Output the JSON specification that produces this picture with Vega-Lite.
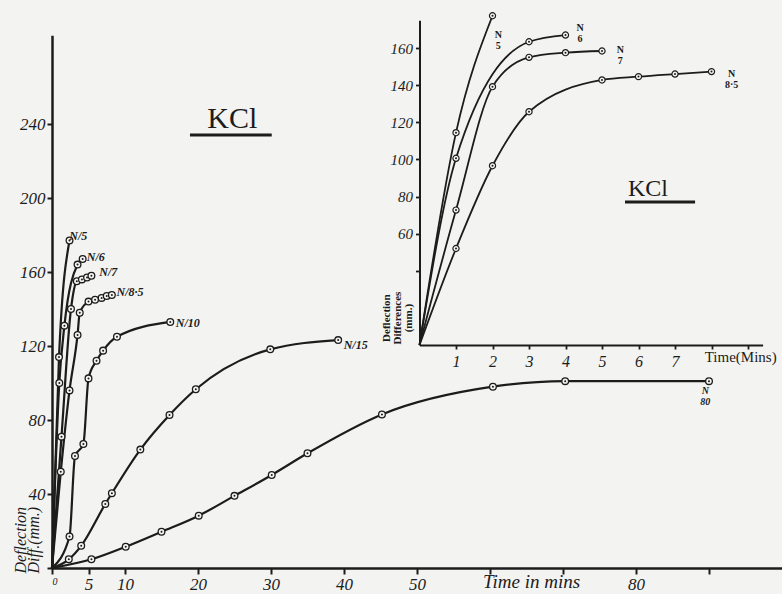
{
  "$schema": "https://vega.github.io/schema/vega-lite/v6.json",
  "width": 730,
  "height": 558,
  "autosize": {"type": "none"},
  "padding": {"left": 52, "top": 10, "right": 0, "bottom": 26},
  "background": "#f3f3f1",
  "config": {
    "view": {"stroke": null},
    "font": "Liberation Serif",
    "axis": {
      "grid": false,
      "title": null,
      "domainColor": "#1c1c1c",
      "tickColor": "#1c1c1c",
      "labelColor": "#1c1c1c",
      "labelFont": "Liberation Serif",
      "labelFontStyle": "italic"
    },
    "text": {"color": "#1c1c1c", "font": "Liberation Serif"}
  },
  "datasets": {
    "main": [
      {"series": "N/5", "t": 0, "v": 0},
      {"series": "N/5", "t": 0.96, "v": 114},
      {"series": "N/5", "t": 2.4, "v": 177},
      {"series": "N/6", "t": 0, "v": 0},
      {"series": "N/6", "t": 1, "v": 100},
      {"series": "N/6", "t": 1.7, "v": 131},
      {"series": "N/6", "t": 3.5, "v": 164},
      {"series": "N/6", "t": 4.2, "v": 167},
      {"series": "N/7", "t": 0, "v": 0},
      {"series": "N/7", "t": 1.3, "v": 71},
      {"series": "N/7", "t": 2.6, "v": 140},
      {"series": "N/7", "t": 3.4, "v": 155},
      {"series": "N/7", "t": 4.1, "v": 156},
      {"series": "N/7", "t": 4.8, "v": 157},
      {"series": "N/7", "t": 5.4, "v": 158},
      {"series": "N/8.5", "t": 0, "v": 0},
      {"series": "N/8.5", "t": 1.2, "v": 52},
      {"series": "N/8.5", "t": 2.4, "v": 96},
      {"series": "N/8.5", "t": 3.5, "v": 126},
      {"series": "N/8.5", "t": 3.8, "v": 138},
      {"series": "N/8.5", "t": 5, "v": 144},
      {"series": "N/8.5", "t": 5.9, "v": 145},
      {"series": "N/8.5", "t": 6.8, "v": 146},
      {"series": "N/8.5", "t": 7.5, "v": 147},
      {"series": "N/8.5", "t": 8.2, "v": 147.6},
      {"series": "N/10", "t": 0, "v": 0},
      {"series": "N/10", "t": 2.4, "v": 17},
      {"series": "N/10", "t": 3.15, "v": 60.5},
      {"series": "N/10", "t": 4.3, "v": 67},
      {"series": "N/10", "t": 5, "v": 102.5},
      {"series": "N/10", "t": 6.1, "v": 112},
      {"series": "N/10", "t": 7, "v": 117.5},
      {"series": "N/10", "t": 8.9, "v": 125},
      {"series": "N/10", "t": 16.2, "v": 133},
      {"series": "N/15", "t": 0, "v": 0},
      {"series": "N/15", "t": 2.3, "v": 4.7},
      {"series": "N/15", "t": 4, "v": 12},
      {"series": "N/15", "t": 7.3, "v": 34.6},
      {"series": "N/15", "t": 8.2, "v": 40.4},
      {"series": "N/15", "t": 12.1, "v": 64},
      {"series": "N/15", "t": 16.1, "v": 82.7},
      {"series": "N/15", "t": 19.7, "v": 96.6},
      {"series": "N/15", "t": 29.9, "v": 118.2},
      {"series": "N/15", "t": 39.2, "v": 123.2},
      {"series": "N/80", "t": 0, "v": 0},
      {"series": "N/80", "t": 5.4, "v": 4.7},
      {"series": "N/80", "t": 10.1, "v": 11.5},
      {"series": "N/80", "t": 15, "v": 19.6},
      {"series": "N/80", "t": 20.1, "v": 28.3},
      {"series": "N/80", "t": 25, "v": 39},
      {"series": "N/80", "t": 30.1, "v": 50.3},
      {"series": "N/80", "t": 35, "v": 62},
      {"series": "N/80", "t": 45.2, "v": 83},
      {"series": "N/80", "t": 60.4, "v": 98},
      {"series": "N/80", "t": 70.3, "v": 101},
      {"series": "N/80", "t": 90, "v": 101}
    ],
    "inset": [
      {"series": "N/5", "t": 0, "v": 0},
      {"series": "N/5", "t": 1, "v": 114.4},
      {"series": "N/5", "t": 2, "v": 177.4},
      {"series": "N/6", "t": 0, "v": 0},
      {"series": "N/6", "t": 1, "v": 100.6},
      {"series": "N/6", "t": 3, "v": 163.4},
      {"series": "N/6", "t": 4, "v": 167},
      {"series": "N/7", "t": 0, "v": 0},
      {"series": "N/7", "t": 1, "v": 72.7},
      {"series": "N/7", "t": 2, "v": 139.2},
      {"series": "N/7", "t": 3, "v": 155},
      {"series": "N/7", "t": 4, "v": 157.5},
      {"series": "N/7", "t": 5, "v": 158.4},
      {"series": "N/8.5", "t": 0, "v": 0},
      {"series": "N/8.5", "t": 1, "v": 52},
      {"series": "N/8.5", "t": 2, "v": 96.6},
      {"series": "N/8.5", "t": 3, "v": 125.7},
      {"series": "N/8.5", "t": 5, "v": 142.8},
      {"series": "N/8.5", "t": 6, "v": 144.6},
      {"series": "N/8.5", "t": 7, "v": 146},
      {"series": "N/8.5", "t": 8, "v": 147.3}
    ]
  },
  "layer": [
    {
      "encoding": {
        "x": {
          "field": "t",
          "type": "quantitative",
          "scale": {"domain": [0, 100], "range": [0, 730], "nice": false, "zero": false},
          "axis": {
            "orient": "bottom",
            "values": [0, 5, 10, 20, 30, 40, 50, 60, 70, 80, 90],
            "labelExpr": "datum.value == 60 || datum.value == 70 || datum.value == 90 ? '' : datum.label",
            "labelFontSize": {"condition": {"test": "datum.value == 0", "value": 10}, "value": 17},
            "domainWidth": 2.5,
            "tickWidth": 2,
            "tickSize": 6,
            "labelPadding": 2
          }
        },
        "y": {
          "field": "v",
          "type": "quantitative",
          "scale": {"domain": [0, 288], "range": [558, 25.2], "nice": false, "zero": false},
          "axis": {
            "orient": "left",
            "values": [0, 40, 80, 120, 160, 200, 240],
            "labelExpr": "datum.value == 0 ? '' : datum.label",
            "labelFontSize": 17,
            "domainWidth": 2.5,
            "tickWidth": 2,
            "tickSize": 5,
            "labelPadding": 2
          }
        }
      },
      "layer": [
        {
          "data": {"name": "main"},
          "mark": {"type": "line", "interpolate": "monotone", "color": "#1c1c1c", "strokeWidth": 2.2},
          "encoding": {"detail": {"field": "series"}}
        },
        {
          "data": {"name": "main"},
          "transform": [{"filter": "datum.t > 0"}],
          "mark": {"type": "point", "shape": "circle", "filled": true, "fill": "#f3f3f1", "stroke": "#1c1c1c", "strokeWidth": 1.3, "size": 45, "opacity": 1}
        },
        {
          "data": {"name": "main"},
          "transform": [{"filter": "datum.t > 0"}],
          "mark": {"type": "point", "shape": "circle", "filled": true, "color": "#1c1c1c", "size": 4, "opacity": 1}
        },
        {
          "data": {"values": [
            {"t": 3.6, "v": 179.5, "label": "N/5"},
            {"t": 6.0, "v": 168, "label": "N/6"},
            {"t": 7.7, "v": 160, "label": "N/7"},
            {"t": 10.7, "v": 149, "label": "N/8·5"},
            {"t": 18.6, "v": 132.4, "label": "N/10"},
            {"t": 41.6, "v": 120.5, "label": "N/15"}
          ]},
          "mark": {"type": "text", "fontSize": 12, "fontWeight": "bold", "fontStyle": "italic", "align": "center", "baseline": "middle"},
          "encoding": {"text": {"field": "label"}}
        },
        {
          "data": {"values": [{"t": 89.5, "v": 95.5, "label": "N\n80"}]},
          "mark": {"type": "text", "fontSize": 10, "fontWeight": "bold", "fontStyle": "italic", "lineBreak": "\n", "lineHeight": 11, "align": "center", "baseline": "middle"},
          "encoding": {"text": {"field": "label"}}
        },
        {
          "data": {"values": [{"t": 24.7, "v": 242.5, "label": "KCl"}]},
          "mark": {"type": "text", "fontSize": 30, "align": "center", "baseline": "middle"},
          "encoding": {"text": {"field": "label"}}
        },
        {
          "data": {"values": [{"t": 18.9, "t2": 30.1, "v": 234}]},
          "mark": {"type": "rule", "color": "#1c1c1c", "strokeWidth": 3},
          "encoding": {"x2": {"field": "t2"}}
        },
        {
          "data": {"values": [{"t": 65.7, "v": -7.8, "label": "Time in mins"}]},
          "mark": {"type": "text", "fontSize": 19, "fontStyle": "italic", "align": "center", "baseline": "middle"},
          "encoding": {"text": {"field": "label"}}
        },
        {
          "data": {"values": [{"t": -4.3, "v": 15, "label": "Deflection\nDiff.(mm.)"}]},
          "mark": {"type": "text", "fontSize": 16, "fontStyle": "italic", "angle": 270, "lineBreak": "\n", "lineHeight": 13, "align": "center", "baseline": "middle"},
          "encoding": {"text": {"field": "label"}}
        }
      ]
    },
    {
      "encoding": {
        "x": {
          "field": "t",
          "type": "quantitative",
          "scale": {"domain": [0, 9.4], "range": [367.5, 710.6], "nice": false, "zero": false},
          "axis": {
            "orient": "bottom",
            "offset": -223,
            "values": [1, 2, 3, 4, 5, 6, 7, 8, 9],
            "labelExpr": "datum.value > 7 ? '' : datum.label",
            "labelFontSize": 16,
            "domainWidth": 2,
            "tickWidth": 1.8,
            "tickSize": 4,
            "labelPadding": 4
          }
        },
        "y": {
          "field": "v",
          "type": "quantitative",
          "scale": {"domain": [0, 175], "range": [335, 10.2], "nice": false, "zero": false},
          "axis": {
            "orient": "left",
            "offset": -367.5,
            "values": [40, 60, 80, 100, 120, 140, 160],
            "labelExpr": "datum.value < 60 ? '' : datum.label",
            "labelFontSize": 15,
            "domainWidth": 2,
            "tickWidth": 1.8,
            "tickSize": 4,
            "labelPadding": 3
          }
        }
      },
      "layer": [
        {
          "data": {"name": "inset"},
          "mark": {"type": "line", "interpolate": "monotone", "color": "#1c1c1c", "strokeWidth": 1.8},
          "encoding": {"detail": {"field": "series"}}
        },
        {
          "data": {"name": "inset"},
          "transform": [{"filter": "datum.t > 0"}],
          "mark": {"type": "point", "shape": "circle", "filled": true, "fill": "#f3f3f1", "stroke": "#1c1c1c", "strokeWidth": 1.2, "size": 38, "opacity": 1}
        },
        {
          "data": {"name": "inset"},
          "transform": [{"filter": "datum.t > 0"}],
          "mark": {"type": "point", "shape": "circle", "filled": true, "color": "#1c1c1c", "size": 4, "opacity": 1}
        },
        {
          "data": {"values": [
            {"t": 2.16, "v": 167, "label": "N\n5"},
            {"t": 4.4, "v": 171, "label": "N\n6"},
            {"t": 5.5, "v": 159, "label": "N\n7"},
            {"t": 8.55, "v": 146, "label": "N\n8·5"}
          ]},
          "mark": {"type": "text", "fontSize": 10, "fontWeight": "bold", "lineBreak": "\n", "lineHeight": 11, "align": "center", "baseline": "middle"},
          "encoding": {"text": {"field": "label"}}
        },
        {
          "data": {"values": [{"t": 6.26, "v": 84, "label": "KCl"}]},
          "mark": {"type": "text", "fontSize": 24, "align": "center", "baseline": "middle"},
          "encoding": {"text": {"field": "label"}}
        },
        {
          "data": {"values": [{"t": 5.63, "t2": 7.55, "v": 77}]},
          "mark": {"type": "rule", "color": "#1c1c1c", "strokeWidth": 3},
          "encoding": {"x2": {"field": "t2"}}
        },
        {
          "data": {"values": [{"t": 8.8, "v": -6.5, "label": "Time(Mins)"}]},
          "mark": {"type": "text", "fontSize": 15, "align": "center", "baseline": "middle"},
          "encoding": {"text": {"field": "label"}}
        },
        {
          "data": {"values": [{"t": -0.9, "v": 14.5, "label": "Deflection\nDifferences\n(mm.)"}]},
          "mark": {"type": "text", "fontSize": 11, "fontWeight": "bold", "angle": 270, "lineBreak": "\n", "lineHeight": 11, "align": "center", "baseline": "middle"},
          "encoding": {"text": {"field": "label"}}
        }
      ]
    }
  ],
  "resolve": {
    "scale": {"x": "independent", "y": "independent"},
    "axis": {"x": "independent", "y": "independent"}
  }
}
